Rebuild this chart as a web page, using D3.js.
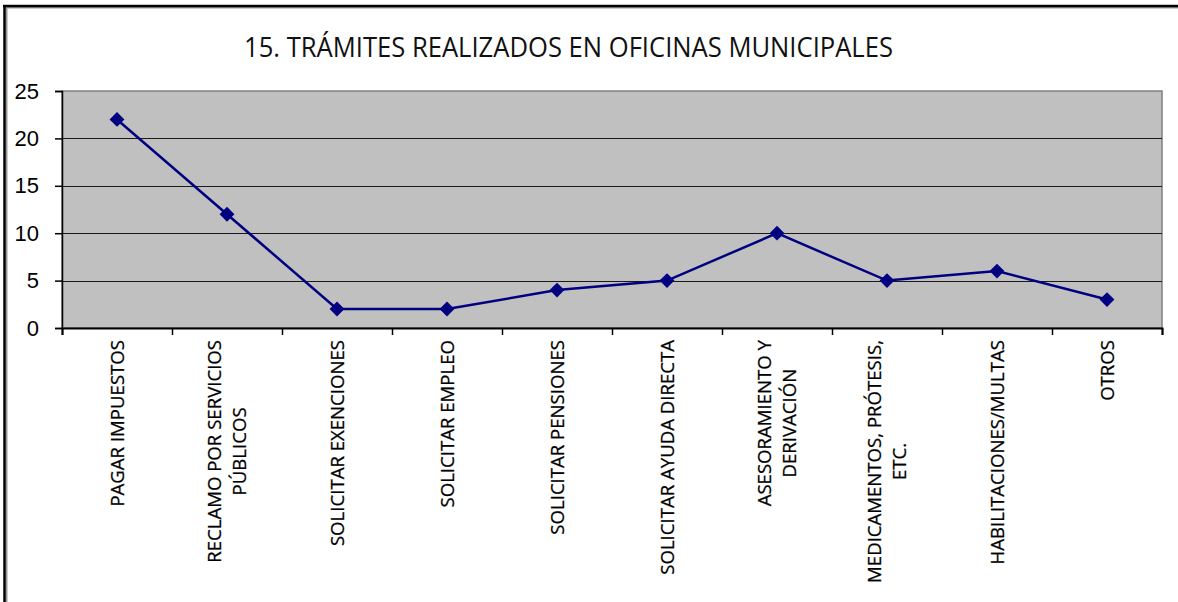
<!DOCTYPE html>
<html>
<head>
<meta charset="utf-8">
<script src="https://cdn.jsdelivr.net/npm/d3@7/dist/d3.min.js"></script>
<style>
  body { margin: 0; background: #fff; }
  svg { display: block; }
</style>
</head>
<body>
<div id="chart"></div>
<script>

var title      = "15. TRÁMITES REALIZADOS EN OFICINAS MUNICIPALES"
var categories = [
  ["PAGAR IMPUESTOS"],
  ["RECLAMO POR SERVICIOS", "PÚBLICOS"],
  ["SOLICITAR EXENCIONES"],
  ["SOLICITAR EMPLEO"],
  ["SOLICITAR PENSIONES"],
  ["SOLICITAR AYUDA DIRECTA"],
  ["ASESORAMIENTO Y", "DERIVACIÓN"],
  ["MEDICAMENTOS, PRÓTESIS,", "ETC."],
  ["HABILITACIONES/MULTAS"],
  ["OTROS"]
]
var values     = [22, 12, 2, 2, 4, 5, 10, 5, 6, 3]
var yTicks     = [0, 5, 10, 15, 20, 25]

var W = 1178, H = 602
var plot = {left: 62, right: 1162, top: 91, bottom: 328}

var svg = d3.select("#chart").append("svg")
  .attr("width", W)
  .attr("height", H)

svg.append("rect").attr("width", W).attr("height", H).attr("fill", "#fff")

// outer frame (only top and left visible in the crop)
svg.append("line").attr("x1", 4).attr("x2", W).attr("y1", 7.5).attr("y2", 7.5).attr("stroke", "#999").attr("stroke-width", 2)
svg.append("line").attr("x1", 6.5).attr("x2", 6.5).attr("y1", 6).attr("y2", H).attr("stroke", "#999").attr("stroke-width", 2)
svg.append("line").attr("x1", 3).attr("x2", W).attr("y1", 6).attr("y2", 6).attr("stroke", "#000").attr("stroke-width", 2.5)
svg.append("line").attr("x1", 4.5).attr("x2", 4.5).attr("y1", 5).attr("y2", H).attr("stroke", "#000").attr("stroke-width", 2.5)

svg.append("text")
  .attr("x", 244).attr("y", 57)
  .attr("font-family", "Open Sans")
  .attr("font-size", 27)
  .attr("textLength", 649)
  .attr("lengthAdjust", "spacingAndGlyphs")
  .attr("fill", "#111")
  .text(title)

var x = d3.scaleBand().domain(d3.range(categories.length)).range([plot.left, plot.right])
var y = d3.scaleLinear().domain([0, 25]).range([plot.bottom, plot.top])

svg.append("rect")
  .attr("x", plot.left).attr("y", plot.top)
  .attr("width", plot.right - plot.left).attr("height", plot.bottom - plot.top)
  .attr("fill", "#c0c0c0")
  .attr("stroke", "#808080")
  .attr("stroke-width", 1.5)

svg.selectAll(".grid").data(yTicks.filter(function(d) { return d > 0 && d < 25 })).enter()
  .append("line")
  .attr("class", "grid")
  .attr("x1", plot.left).attr("x2", plot.right)
  .attr("y1", function(d) { return Math.round(y(d)) + 0.5 })
  .attr("y2", function(d) { return Math.round(y(d)) + 0.5 })
  .attr("stroke", "#1a1a1a")
  .attr("stroke-width", 1)

var yAxis = svg.append("g")
  .attr("transform", "translate(" + plot.left + ",0)")
  .call(d3.axisLeft(y).tickValues(yTicks).tickSize(7).tickPadding(16))
yAxis.select(".domain").attr("stroke", "#000").attr("stroke-width", 1.5)
yAxis.selectAll(".tick line").attr("stroke", "#000").attr("stroke-width", 1.5)
yAxis.selectAll(".tick text")
  .attr("font-family", "Liberation Sans")
  .attr("font-size", 22)
  .attr("fill", "#000")

// category axis: ticks between the bands
var xEdges = d3.range(categories.length + 1).map(function(i) {
  return i < categories.length ? x(i) : x(i - 1) + x.bandwidth()
})
var xAxis = svg.append("g")
  .attr("transform", "translate(0," + plot.bottom + ")")
  .call(d3.axisBottom(d3.scaleLinear().domain([plot.left, plot.right]).range([plot.left, plot.right]))
    .tickValues(xEdges).tickSize(7).tickFormat(""))
xAxis.select(".domain").attr("stroke", "#000").attr("stroke-width", 2)
xAxis.selectAll(".tick line").attr("stroke", "#000").attr("stroke-width", 1.5)

var labelTop = 340, lineH = 25
categories.forEach(function(lines, i) {
  var g = svg.append("g")
    .attr("transform", "translate(" + (x(i) + x.bandwidth() / 2) + "," + labelTop + ") rotate(-90)")
  var t = g.selectAll("text").data(lines).enter().append("text")
    .attr("font-family", "Open Sans")
    .attr("font-size", 18.6)
    .attr("fill", "#000")
    .attr("stroke", "#000")
    .attr("stroke-width", 0.25)
    .attr("text-anchor", "middle")
    .attr("dy", "0.36em")
    .attr("y", function(d, j) { return (j - (lines.length - 1) / 2) * lineH })
    .text(function(d) { return d })
  var maxW = d3.max(t.nodes(), function(n) { return n.getComputedTextLength() })
  t.attr("x", -maxW / 2)
})

var cx = function(d, i) { return x(i) + x.bandwidth() / 2 }

svg.append("path")
  .datum(values)
  .attr("fill", "none")
  .attr("stroke", "#000080")
  .attr("stroke-width", 2.5)
  .attr("d", d3.line().x(cx).y(function(d) { return y(d) }))

svg.selectAll(".marker").data(values).enter()
  .append("path")
  .attr("class", "marker")
  .attr("d", d3.symbol().type(d3.symbolSquare).size(110))
  .attr("transform", function(d, i) { return "translate(" + cx(d, i) + "," + y(d) + ") rotate(45)" })
  .attr("fill", "#000080")

</script>
</body>
</html>
